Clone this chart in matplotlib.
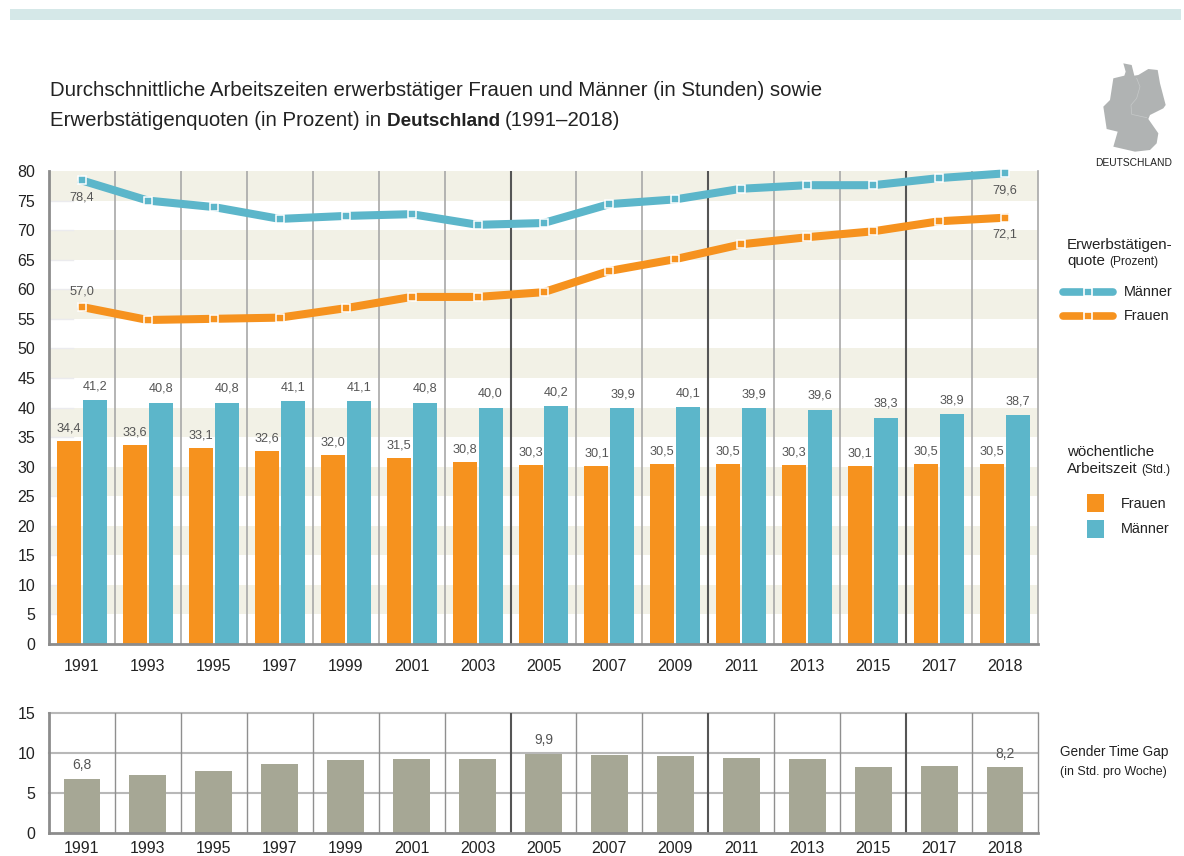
import matplotlib
matplotlib.use('Agg')
import matplotlib.pyplot as plt
from matplotlib.lines import Line2D
from matplotlib.patches import Polygon, Rectangle
import numpy as np

W, H = 1184, 856
FONT = ['Liberation Sans', 'DejaVu Sans']

years = ['1991', '1993', '1995', '1997', '1999', '2001', '2003', '2005', '2007', '2009', '2011', '2013', '2015', '2017', '2018']
hours_women = [34.4, 33.6, 33.1, 32.6, 32.0, 31.5, 30.8, 30.3, 30.1, 30.5, 30.5, 30.3, 30.1, 30.5, 30.5]
hours_men = [41.2, 40.8, 40.8, 41.1, 41.1, 40.8, 40.0, 40.2, 39.9, 40.1, 39.9, 39.6, 38.3, 38.9, 38.7]
rate_men = [78.4, 75.0, 73.9, 71.9, 72.4, 72.7, 70.9, 71.2, 74.4, 75.2, 77.0, 77.6, 77.6, 78.8, 79.6]
rate_women = [57.0, 54.8, 55.0, 55.2, 56.8, 58.7, 58.7, 59.5, 63.1, 65.1, 67.6, 68.8, 69.8, 71.5, 72.1]
time_gap = [6.8, 7.2, 7.7, 8.6, 9.1, 9.3, 9.2, 9.9, 9.8, 9.6, 9.4, 9.3, 8.2, 8.4, 8.2]
gap_labels = {0: '6,8', 7: '9,9', 14: '8,2'}

ORANGE = '#f6921e'
BLUE = '#5cb6ca'
OLIVE = '#a6a795'
BAND = '#f2f1e6'
GRID = '#a8a8a8'
TEXT = '#222222'
LABEL = '#555555'

# rough outline of the map icon, in zoomed pixels of the top right corner
map_outline = [(85, 25), (110, 30), (118, 62), (130, 60), (160, 42), (188, 45), (195, 85), (212, 150), (205, 160),
               (165, 180), (160, 192), (190, 235), (185, 265), (165, 285), (120, 290), (55, 275), (68, 230), (35, 222),
               (25, 155), (45, 135), (55, 70), (88, 62), (92, 50)]
map_border = [(125, 70), (135, 95), (125, 130), (108, 150), (110, 178), (155, 188)]


def de(value):
    return f'{value:.1f}'.replace('.', ',')


def axes_px(fig, left, top, right, bottom):
    return fig.add_axes([left / W, 1 - bottom / H, (right - left) / W, (bottom - top) / H])


def style_axes(ax, ylim, yticks, grid_lw=1.2, grid_color=GRID):
    ax.set_xlim(-0.5, 14.5)
    ax.set_ylim(*ylim)
    ax.set_yticks(yticks)
    ax.set_xticks(range(len(years)), years)
    ax.tick_params(length=0, labelsize=11.5, labelcolor=TEXT)
    for label in ax.get_xticklabels() + ax.get_yticklabels():
        label.set_family(FONT)
    ax.set_axisbelow(True)
    for spine in ('left', 'bottom'):
        ax.spines[spine].set_color('#8c8c8c')
        ax.spines[spine].set_linewidth(2)
    ax.spines['top'].set_visible(False)
    ax.spines['right'].set_color(grid_color)
    ax.spines['right'].set_linewidth(grid_lw)
    for i in range(1, 15):
        dark = i in (7, 10, 13)
        ax.axvline(i - 0.5, color='#555555' if dark else grid_color, lw=1.5 if dark else grid_lw, zorder=1.5)


def px_text(fig, x, y, s, **kwargs):
    kwargs.setdefault('color', TEXT)
    kwargs.setdefault('family', FONT)
    kwargs.setdefault('va', 'center')
    return fig.text(x / W, 1 - y / H, s, **kwargs)


def px_line(fig, x0, x1, y, color):
    fig.add_artist(Line2D([x0 / W, x1 / W], [1 - y / H] * 2, color=color, lw=5.5, solid_capstyle='round'))
    fig.add_artist(Line2D([(x0 + x1) / 2 / W], [1 - y / H], color=color, marker='s', ms=5.5, mec='white', mew=1.2))


def px_swatch(fig, x, y, w, h, color):
    fig.add_artist(Rectangle((x / W, 1 - (y + h) / H), w / W, h / H, transform=fig.transFigure, color=color, lw=0))


def value_label(ax, text, xy, dy):
    ax.annotate(text, xy, xytext=(0, dy), textcoords='offset points', ha='center', va='center',
                fontsize=9.2, family=FONT, color=LABEL)


fig = plt.figure(figsize=(W / 100, H / 100), dpi=100)
x = np.arange(len(years))

# main chart
ax = axes_px(fig, 49, 171, 1038, 644)
style_axes(ax, (0, 80), range(0, 85, 5))
for lo in range(5, 80, 10):
    ax.axhspan(lo, lo + 5, color=BAND, lw=0, zorder=0)
for level in range(5, 80, 5):
    ax.plot([-0.5, -0.13], [level, level], color='#ebebee', lw=1, zorder=0.5)
ax.bar(x - 0.197, hours_women, 0.364, color=ORANGE, zorder=2)
ax.bar(x + 0.197, hours_men, 0.364, color=BLUE, zorder=2)
for i in x:
    value_label(ax, de(hours_women[i]), (i - 0.197, hours_women[i]), 9)
    value_label(ax, de(hours_men[i]), (i + 0.197, hours_men[i]), 10)
for rate, color in ((rate_men, BLUE), (rate_women, ORANGE)):
    ax.plot(x, rate, color=color, lw=5.8, solid_joinstyle='miter', zorder=3, clip_on=False)
    ax.plot(x, rate, ls='none', marker='s', ms=6, mfc=color, mec='white', mew=1.1, zorder=4, clip_on=False)
value_label(ax, de(rate_men[0]), (0, rate_men[0]), -12)
value_label(ax, de(rate_women[0]), (0, rate_women[0]), 11)
value_label(ax, de(rate_men[-1]), (14, rate_men[-1]), -12)
value_label(ax, de(rate_women[-1]), (14, rate_women[-1]), -12)
ax.tick_params(axis='x', pad=11)
ax.tick_params(axis='y', pad=10)

# gender time gap
ax2 = axes_px(fig, 49, 713, 1038, 833)
style_axes(ax2, (0, 15), [0, 5, 10, 15], grid_lw=1, grid_color='#8f8f8f')
for level in (5, 10, 15):
    ax2.axhline(level, color='#b8b8b8', lw=1.5, zorder=1, clip_on=False)
ax2.bar(x, time_gap, 0.56, color=OLIVE, zorder=2)
for i, text in gap_labels.items():
    ax2.annotate(text, (i, time_gap[i]), xytext=(0, 10), textcoords='offset points',
                 ha='center', va='center', fontsize=10, family=FONT, color=LABEL)
ax2.tick_params(axis='x', pad=6)
ax2.tick_params(axis='y', pad=10)

# decoration and titles
px_swatch(fig, 10, 9, 1171, 11, '#d5e8e8')
px_text(fig, 50, 91, 'Durchschnittliche Arbeitszeiten erwerbstätiger Frauen und Männer (in Stunden) sowie', fontsize=14.7)

# second title line has a bold word in it, so put the pieces one after the other
renderer = fig.canvas.get_renderer()
pen = 50
for piece, weight, size in (('Erwerbstätigenquoten (in Prozent) in ', 'normal', 14.7), ('Deutschland ', 'bold', 13.6),
                            ('(1991–2018)', 'normal', 14.7)):
    t = px_text(fig, pen, 121, piece.replace(' ', '\u00a0'), fontsize=size, fontweight=weight)
    pen = t.get_window_extent(renderer).x1

to_fig = lambda p: ((1095 + p[0] / 3) / W, 1 - (55 + p[1] / 3) / H)
fig.add_artist(Polygon([to_fig(p) for p in map_outline], closed=True, transform=fig.transFigure, color='#b0b3b3', lw=0))
fig.add_artist(Line2D(*zip(*[to_fig(p) for p in map_border]), color='#c6c9c9', lw=0.5))
px_text(fig, 1134, 163, 'DEUTSCHLAND', fontsize=7.4, ha='center')

# legends
px_text(fig, 1067, 245, 'Erwerbstätigen-', fontsize=10.9)
px_text(fig, 1067, 261, 'quote', fontsize=10.9)
px_text(fig, 1109, 262, '(Prozent)', fontsize=8.6)
px_line(fig, 1063, 1113, 292, BLUE)
px_text(fig, 1124, 292, 'Männer', fontsize=10.4)
px_line(fig, 1063, 1113, 316, ORANGE)
px_text(fig, 1124, 316, 'Frauen', fontsize=10.4)

px_text(fig, 1067, 452, 'wöchentliche', fontsize=10.9)
px_text(fig, 1067, 469, 'Arbeitszeit', fontsize=10.9)
px_text(fig, 1141, 470, '(Std.)', fontsize=8.6)
px_swatch(fig, 1087, 494, 17, 18, ORANGE)
px_text(fig, 1121, 504, 'Frauen', fontsize=10.4)
px_swatch(fig, 1087, 520, 17, 18, BLUE)
px_text(fig, 1121, 529, 'Männer', fontsize=10.4)

px_text(fig, 1060, 752, 'Gender Time Gap', fontsize=9.8)
px_text(fig, 1060, 772, '(in Std. pro Woche)', fontsize=8.9)

fig.savefig('out.png', dpi=100)
